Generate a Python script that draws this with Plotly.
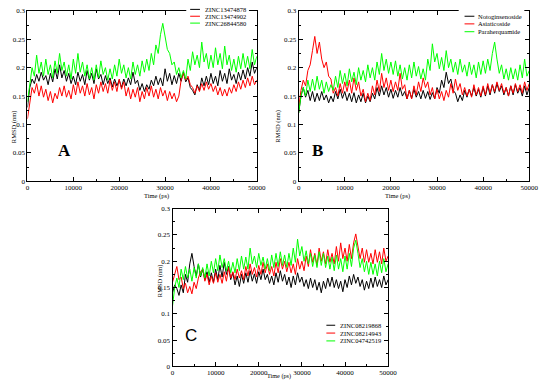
import plotly.graph_objects as go

# ---------------- data (RMSD in nm, sampled every 500 ps) ----------------
time_ps = list(range(0, 50001, 500))

a_names = ["ZINC13474878", "ZINC13474902", "ZINC26844580"]
a_black = [0.130,0.165,0.180,0.172,0.188,0.176,0.192,0.178,0.186,0.170,
           0.190,0.175,0.198,0.180,0.205,0.182,0.195,0.176,0.190,0.172,
           0.185,0.170,0.192,0.176,0.188,0.170,0.195,0.178,0.190,0.172,
           0.198,0.180,0.188,0.170,0.186,0.172,0.182,0.166,0.180,0.168,
           0.178,0.165,0.180,0.168,0.182,0.170,0.192,0.172,0.178,0.160,
           0.172,0.158,0.170,0.162,0.178,0.168,0.185,0.170,0.182,0.168,
           0.198,0.176,0.190,0.170,0.186,0.172,0.190,0.176,0.192,0.175,
           0.182,0.165,0.160,0.152,0.170,0.160,0.182,0.168,0.185,0.170,
           0.190,0.172,0.185,0.168,0.195,0.176,0.190,0.172,0.198,0.178,
           0.188,0.172,0.192,0.178,0.196,0.180,0.200,0.185,0.210,0.190,
           0.200]
a_red = [0.110,0.140,0.165,0.155,0.172,0.150,0.168,0.148,0.162,0.142,
         0.158,0.138,0.155,0.145,0.165,0.150,0.168,0.148,0.160,0.145,
         0.170,0.152,0.175,0.155,0.168,0.150,0.172,0.152,0.165,0.145,
         0.170,0.155,0.175,0.158,0.172,0.155,0.178,0.160,0.175,0.158,
         0.180,0.162,0.175,0.150,0.165,0.145,0.162,0.148,0.165,0.140,
         0.158,0.145,0.165,0.150,0.168,0.148,0.162,0.145,0.165,0.150,
         0.160,0.142,0.158,0.145,0.155,0.140,0.150,0.178,0.190,0.178,
         0.185,0.170,0.165,0.155,0.168,0.158,0.172,0.160,0.175,0.162,
         0.172,0.158,0.168,0.152,0.165,0.150,0.162,0.150,0.165,0.155,
         0.170,0.158,0.175,0.162,0.178,0.165,0.182,0.168,0.185,0.170,
         0.178]
a_green = [0.140,0.175,0.200,0.185,0.222,0.190,0.210,0.185,0.215,0.188,
           0.205,0.182,0.212,0.190,0.225,0.195,0.210,0.185,0.205,0.180,
           0.215,0.190,0.225,0.192,0.210,0.185,0.205,0.180,0.200,0.178,
           0.205,0.182,0.212,0.188,0.200,0.178,0.198,0.180,0.205,0.185,
           0.215,0.190,0.205,0.182,0.200,0.180,0.210,0.188,0.205,0.185,
           0.212,0.192,0.215,0.195,0.225,0.205,0.240,0.225,0.258,0.278,
           0.255,0.232,0.225,0.205,0.210,0.188,0.200,0.182,0.195,0.180,
           0.215,0.195,0.228,0.205,0.222,0.200,0.245,0.210,0.225,0.198,
           0.222,0.200,0.235,0.205,0.225,0.198,0.238,0.205,0.222,0.195,
           0.215,0.192,0.220,0.198,0.225,0.200,0.220,0.198,0.232,0.205,
           0.220]

b_names = ["Notoginsenoside", "Asiaticoside", "Paraherquamide"]
b_black = [0.120,0.150,0.165,0.148,0.160,0.142,0.158,0.140,0.155,0.142,
           0.158,0.143,0.152,0.138,0.150,0.140,0.158,0.145,0.162,0.146,
           0.158,0.142,0.155,0.140,0.156,0.138,0.152,0.140,0.155,0.138,
           0.150,0.140,0.155,0.145,0.165,0.150,0.168,0.152,0.165,0.148,
           0.162,0.146,0.160,0.148,0.165,0.150,0.158,0.145,0.160,0.146,
           0.162,0.148,0.158,0.145,0.160,0.146,0.158,0.144,0.156,0.145,
           0.165,0.155,0.178,0.165,0.192,0.172,0.180,0.160,0.155,0.140,
           0.152,0.142,0.160,0.148,0.162,0.150,0.165,0.150,0.162,0.148,
           0.165,0.150,0.168,0.152,0.170,0.155,0.172,0.158,0.168,0.152,
           0.165,0.150,0.168,0.152,0.170,0.155,0.165,0.150,0.168,0.152,
           0.165]
b_red = [0.130,0.160,0.178,0.168,0.195,0.205,0.230,0.255,0.225,0.245,
         0.215,0.200,0.210,0.185,0.180,0.155,0.165,0.150,0.172,0.155,
         0.175,0.158,0.178,0.155,0.182,0.160,0.175,0.150,0.162,0.140,
         0.155,0.142,0.168,0.152,0.178,0.158,0.190,0.165,0.182,0.160,
         0.178,0.158,0.175,0.160,0.190,0.162,0.170,0.145,0.160,0.145,
         0.168,0.152,0.175,0.158,0.182,0.165,0.175,0.152,0.165,0.145,
         0.162,0.145,0.158,0.142,0.160,0.148,0.172,0.155,0.180,0.160,
         0.172,0.152,0.165,0.150,0.162,0.148,0.170,0.152,0.165,0.150,
         0.168,0.152,0.172,0.155,0.170,0.158,0.175,0.160,0.172,0.155,
         0.165,0.150,0.168,0.155,0.172,0.158,0.170,0.155,0.175,0.160,
         0.172]
b_green = [0.120,0.150,0.165,0.150,0.178,0.158,0.180,0.160,0.185,0.162,
           0.178,0.155,0.175,0.158,0.170,0.160,0.185,0.165,0.195,0.172,
           0.190,0.168,0.198,0.175,0.192,0.170,0.200,0.178,0.195,0.175,
           0.205,0.182,0.200,0.178,0.210,0.188,0.225,0.195,0.215,0.190,
           0.210,0.188,0.212,0.185,0.205,0.180,0.200,0.178,0.205,0.182,
           0.210,0.185,0.202,0.180,0.198,0.178,0.215,0.195,0.242,0.210,
           0.225,0.198,0.218,0.195,0.230,0.200,0.215,0.192,0.210,0.188,
           0.215,0.192,0.205,0.185,0.210,0.188,0.205,0.182,0.210,0.188,
           0.212,0.190,0.215,0.195,0.225,0.245,0.215,0.190,0.205,0.180,
           0.198,0.178,0.200,0.180,0.198,0.178,0.205,0.182,0.215,0.185,
           0.195]

c_names = ["ZINC08219868", "ZINC08214943", "ZINC04742519"]
c_black = [0.140,0.155,0.148,0.135,0.155,0.140,0.175,0.160,0.195,0.215,
           0.190,0.172,0.195,0.170,0.185,0.165,0.180,0.160,0.178,0.160,
           0.185,0.165,0.192,0.170,0.198,0.175,0.190,0.165,0.178,0.155,
           0.172,0.152,0.175,0.158,0.178,0.160,0.182,0.162,0.176,0.158,
           0.180,0.165,0.185,0.165,0.175,0.158,0.172,0.155,0.178,0.160,
           0.182,0.162,0.175,0.155,0.170,0.150,0.172,0.155,0.178,0.160,
           0.170,0.152,0.165,0.148,0.168,0.150,0.165,0.145,0.160,0.140,
           0.162,0.148,0.168,0.152,0.170,0.150,0.165,0.148,0.162,0.142,
           0.165,0.150,0.172,0.155,0.175,0.158,0.170,0.152,0.165,0.145,
           0.162,0.148,0.168,0.150,0.170,0.152,0.165,0.150,0.172,0.155,
           0.165]
c_red = [0.160,0.175,0.190,0.165,0.170,0.148,0.158,0.140,0.152,0.138,
         0.160,0.148,0.168,0.180,0.185,0.162,0.175,0.155,0.172,0.158,
         0.178,0.160,0.175,0.158,0.180,0.162,0.188,0.168,0.180,0.165,
         0.185,0.168,0.182,0.165,0.190,0.172,0.195,0.175,0.188,0.170,
         0.192,0.175,0.198,0.178,0.195,0.175,0.190,0.172,0.198,0.178,
         0.205,0.185,0.200,0.180,0.198,0.178,0.195,0.175,0.205,0.185,
         0.200,0.182,0.210,0.190,0.222,0.198,0.215,0.192,0.225,0.200,
         0.218,0.195,0.222,0.198,0.215,0.195,0.228,0.200,0.235,0.205,
         0.225,0.200,0.232,0.205,0.235,0.252,0.230,0.205,0.225,0.198,
         0.222,0.198,0.215,0.195,0.222,0.198,0.218,0.195,0.225,0.200,
         0.210]
c_green = [0.115,0.150,0.168,0.150,0.185,0.165,0.190,0.168,0.185,0.162,
           0.188,0.168,0.195,0.172,0.188,0.168,0.195,0.172,0.200,0.178,
           0.205,0.182,0.212,0.188,0.205,0.182,0.200,0.178,0.198,0.178,
           0.205,0.182,0.210,0.185,0.208,0.185,0.225,0.195,0.210,0.188,
           0.215,0.192,0.208,0.185,0.205,0.182,0.212,0.188,0.215,0.190,
           0.218,0.192,0.212,0.188,0.215,0.192,0.225,0.198,0.242,0.210,
           0.228,0.200,0.220,0.195,0.215,0.190,0.212,0.188,0.218,0.192,
           0.215,0.188,0.210,0.185,0.208,0.182,0.212,0.185,0.205,0.180,
           0.210,0.185,0.215,0.190,0.225,0.240,0.215,0.188,0.205,0.180,
           0.200,0.175,0.198,0.175,0.195,0.172,0.200,0.178,0.205,0.180,
           0.195]

x_ticks = [0, 10000, 20000, 30000, 40000, 50000]
y_ticks = [0, 0.05, 0.1, 0.15, 0.2, 0.25, 0.3]

# ---------------- layout helpers ----------------
W, H = 550, 388
def px(x):
    return x / W
def py(y):
    return 1 - y / H

colors = ["#000000", "#ff0000", "#00ff00"]
SERIF = "Liberation Serif, Times New Roman, serif"

panels = [
    dict(names=a_names, series=[a_black, a_red, a_green], box=(26, 260, 7, 181), letter="A",
         letter_pos=(55, 150), letter_font="Liberation Serif", letter_bold=True,
         xtitle=(143, 196), xtsize=6.5, ytitle=(6, 106),
         legend=dict(x0=192, x1=202, tx=205, ys=[5.5, 12.5, 19.5]), cover=(188, 252, 0, 23)),
    dict(names=b_names, series=[b_black, b_red, b_green], box=(302.7, 538, 7, 181), letter="B",
         letter_pos=(322, 150), letter_font="Liberation Serif", letter_bold=True,
         xtitle=(418, 196), xtsize=6.5, ytitle=(282, 106),
         legend=dict(x0=472, x1=482, tx=484, ys=[12.5, 20.3, 28.3]), cover=(466, 533, 4, 32)),
    dict(names=c_names, series=[c_black, c_red, c_green], box=(174, 394, 209, 370), letter="C",
         letter_pos=(193, 350), letter_font="Liberation Sans", letter_bold=False,
         xtitle=(283, 385.5), xtsize=6.2, ytitle=(155, 301),
         legend=dict(x0=331, x1=340, tx=343, ys=[328, 336, 344]), cover=None),
]

fig = go.Figure()
layout = dict(width=W, height=H, margin=dict(l=0, r=0, t=0, b=0),
              paper_bgcolor="white", plot_bgcolor="white", showlegend=False)
shapes = []
annotations = []

for i, p in enumerate(panels):
    n = "" if i == 0 else str(i + 1)
    x0, x1, y0, y1 = p["box"]
    for name, ser, col in zip(p["names"], p["series"], colors):
        fig.add_trace(go.Scatter(x=time_ps, y=ser, mode="lines", name=name,
                                 line=dict(color=col, width=1),
                                 xaxis="x" + n, yaxis="y" + n))
    common = dict(showline=True, linecolor="black", linewidth=1, mirror="ticks",
                  ticks="inside", ticklen=4, tickwidth=1, tickcolor="black",
                  showgrid=False, zeroline=False,
                  tickfont=dict(family=SERIF, size=7, color="black"))
    layout["xaxis" + n] = dict(common, domain=[px(x0), px(x1)], anchor="y" + n,
                               range=[0, 50000], tickvals=x_ticks, tickformat="d",
                               ticklabelstandoff=-1,
                               minor=dict(ticks="inside", ticklen=2, dtick=5000, tickcolor="black"))
    layout["yaxis" + n] = dict(common, domain=[py(y1), py(y0)], anchor="x" + n,
                               range=[0, 0.3], tickvals=y_ticks,
                               ticktext=[f"{v:g}" for v in y_ticks],
                               minor=dict(ticks="inside", ticklen=2, dtick=0.025, tickcolor="black"))
    annotations.append(dict(text="Time (ps)", x=px(p["xtitle"][0]), y=py(p["xtitle"][1]),
                            xref="paper", yref="paper", showarrow=False,
                            font=dict(family=SERIF, size=p["xtsize"], color="black")))
    annotations.append(dict(text="RMSD (nm)", x=px(p["ytitle"][0]), y=py(p["ytitle"][1]),
                            xref="paper", yref="paper", showarrow=False, textangle=-90,
                            font=dict(family=SERIF, size=6.5, color="black")))
    lt = f"<b>{p['letter']}</b>" if p["letter_bold"] else p["letter"]
    annotations.append(dict(text=lt, x=px(p["letter_pos"][0]), y=py(p["letter_pos"][1]),
                            xref="paper", yref="paper", showarrow=False,
                            font=dict(family=p["letter_font"], size=17, color="black")))
    if p["cover"]:
        cx0, cx1, cy0, cy1 = p["cover"]
        shapes.append(dict(type="rect", xref="paper", yref="paper", layer="above",
                           x0=px(cx0), x1=px(cx1), y0=py(cy1), y1=py(cy0),
                           fillcolor="white", line=dict(width=0)))
    lg = p["legend"]
    for name, col, yy in zip(p["names"], colors, lg["ys"]):
        shapes.append(dict(type="line", xref="paper", yref="paper", layer="above",
                           x0=px(lg["x0"]), x1=px(lg["x1"]), y0=py(yy), y1=py(yy),
                           line=dict(color=col, width=1)))
        annotations.append(dict(text=name, x=px(lg["tx"]), y=py(yy), xref="paper", yref="paper",
                                xanchor="left", yanchor="middle", showarrow=False,
                                font=dict(family=SERIF, size=6.5, color="black")))

layout["shapes"] = shapes
layout["annotations"] = annotations
fig.update_layout(**layout)
fig.write_html("out.html", config={"displayModeBar": False},
               post_script="document.body.style.margin='0';document.body.style.padding='0';")
